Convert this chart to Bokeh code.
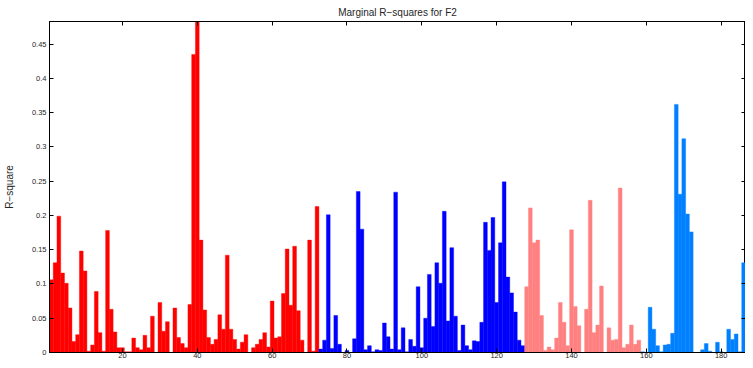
from bokeh.plotting import figure
from bokeh.models import ColumnDataSource, Range1d, FixedTicker, LinearAxis
from bokeh.embed import file_html
from bokeh.resources import INLINE

# ---- data ----
red_vals = [0.106, 0.131, 0.199, 0.116, 0.101, 0.065, 0.016, 0.026, 0.148, 0.119,
            0.002, 0.011, 0.089, 0.029, 0.002, 0.178, 0.063, 0.030, 0.007, 0.007,
            0.001, 0.001, 0.021, 0.007, 0.004, 0.025, 0.007, 0.053, 0.000, 0.073,
            0.031, 0.045, 0.000, 0.065, 0.022, 0.013, 0.007, 0.070, 0.435, 0.490,
            0.164, 0.062, 0.022, 0.012, 0.019, 0.055, 0.034, 0.142, 0.034, 0.019,
            0.005, 0.015, 0.026, 0.000, 0.007, 0.012, 0.019, 0.029, 0.008, 0.075,
            0.021, 0.023, 0.086, 0.151, 0.069, 0.155, 0.061, 0.018, 0.000, 0.164,
            0.002, 0.213]
blue_vals = [0.005, 0.018, 0.201, 0.006, 0.054, 0.012, 0.000, 0.003, 0.000, 0.020,
             0.235, 0.180, 0.004, 0.010, 0.001, 0.004, 0.003, 0.043, 0.023, 0.005,
             0.234, 0.004, 0.036, 0.001, 0.019, 0.009, 0.096, 0.007, 0.050, 0.114,
             0.038, 0.131, 0.101, 0.206, 0.046, 0.153, 0.053, 0.003, 0.040, 0.010,
             0.004, 0.017, 0.016, 0.044, 0.190, 0.149, 0.197, 0.073, 0.160, 0.249,
             0.110, 0.087, 0.059, 0.018, 0.010]
pink_vals = [0.096, 0.211, 0.160, 0.164, 0.054, 0.003, 0.008, 0.004, 0.021, 0.073,
             0.044, 0.010, 0.179, 0.067, 0.039, 0.000, 0.063, 0.222, 0.029, 0.040,
             0.097, 0.000, 0.036, 0.018, 0.019, 0.240, 0.007, 0.012, 0.040, 0.012,
             0.018]
lightblue_vals = [0.001, 0.000, 0.066, 0.034, 0.010, 0.001, 0.011, 0.012, 0.028, 0.362,
                  0.231, 0.312, 0.202, 0.176, 0.000, 0.000, 0.004, 0.013, 0.002, 0.000,
                  0.015, 0.001, 0.000, 0.034, 0.019, 0.027, 0.001, 0.131]

group_values = [red_vals, blue_vals, pink_vals, lightblue_vals]
group_colors = ["#FF0000", "#0000FF", "#FF8080", "#0080FF"]

x_ticks = [20, 40, 60, 80, 100, 120, 140, 160, 180]
y_ticks = [0, 0.05, 0.1, 0.15, 0.2, 0.25, 0.3, 0.35, 0.4, 0.45]
y_tick_labels = ["0", "0.05", "0.1", "0.15", "0.2", "0.25", "0.3", "0.35", "0.4", "0.45"]

# ---- build table ----
xs, tops, cols = [], [], []
idx = 1
for vals, c in zip(group_values, group_colors):
    for v in vals:
        xs.append(idx)
        tops.append(v)
        cols.append(c)
        idx += 1
n_total = idx - 1
source = ColumnDataSource(dict(x=xs, top=tops, color=cols))

p = figure(width=745, height=360, output_backend="svg", toolbar_location=None,
           x_range=Range1d(0.5, n_total + 0.5), y_range=Range1d(0, 0.483),
           title="Marginal R\u2212squares for F2",
           min_border_left=42, min_border_right=0, min_border_top=5, min_border_bottom=0)

p.vbar(x="x", top="top", width=1.0, source=source, fill_color="color",
       line_color="color", line_width=0.4)

FONT = "Liberation Sans"
TXT = "#262626"

p.title.align = "center"
p.title.text_font = FONT
p.title.text_font_size = "10px"
p.title.text_font_style = "normal"
p.title.text_color = TXT
p.title.standoff = 8
p.title.offset = 0

p.xgrid.visible = False
p.ygrid.visible = False
p.outline_line_color = "black"
p.outline_line_width = 1
p.background_fill_color = "white"

for ax in p.xaxis:
    ax.ticker = FixedTicker(ticks=x_ticks)
    ax.major_tick_in = 4
    ax.major_tick_out = 0
    ax.minor_tick_line_color = None
    ax.major_label_text_font = FONT
    ax.major_label_text_font_size = "7.5px"
    ax.major_label_text_color = TXT
    ax.major_label_standoff = 0
    ax.axis_label_standoff = 0
    ax.axis_line_color = "black"

for ax in p.yaxis:
    ax.ticker = FixedTicker(ticks=y_ticks)
    ax.major_label_overrides = {t: s for t, s in zip(y_ticks, y_tick_labels)}
    ax.major_tick_in = 4
    ax.major_tick_out = 0
    ax.minor_tick_line_color = None
    ax.major_label_text_font = FONT
    ax.major_label_text_font_size = "7.5px"
    ax.major_label_text_color = TXT
    ax.major_label_standoff = 3
    ax.axis_label = "R\u2212square"
    ax.axis_label_text_font = FONT
    ax.axis_label_text_font_size = "10px"
    ax.axis_label_text_font_style = "normal"
    ax.axis_label_text_color = TXT
    ax.axis_label_standoff = 14
    ax.axis_line_color = "black"

top_ax = LinearAxis(ticker=FixedTicker(ticks=x_ticks), major_tick_in=4, major_tick_out=0,
                    minor_tick_line_color=None, major_label_text_font_size="1px",
                    major_label_text_color=None, major_label_standoff=0,
                    axis_label_standoff=0, axis_line_color="black")
right_ax = LinearAxis(ticker=FixedTicker(ticks=y_ticks), major_tick_in=4, major_tick_out=0,
                      minor_tick_line_color=None, major_label_text_font_size="1px",
                      major_label_text_color=None, major_label_standoff=0,
                      axis_label_standoff=0, axis_line_color="black")
p.add_layout(top_ax, "above")
p.add_layout(right_ax, "right")

open("out.html", "w").write(file_html(p, INLINE))
